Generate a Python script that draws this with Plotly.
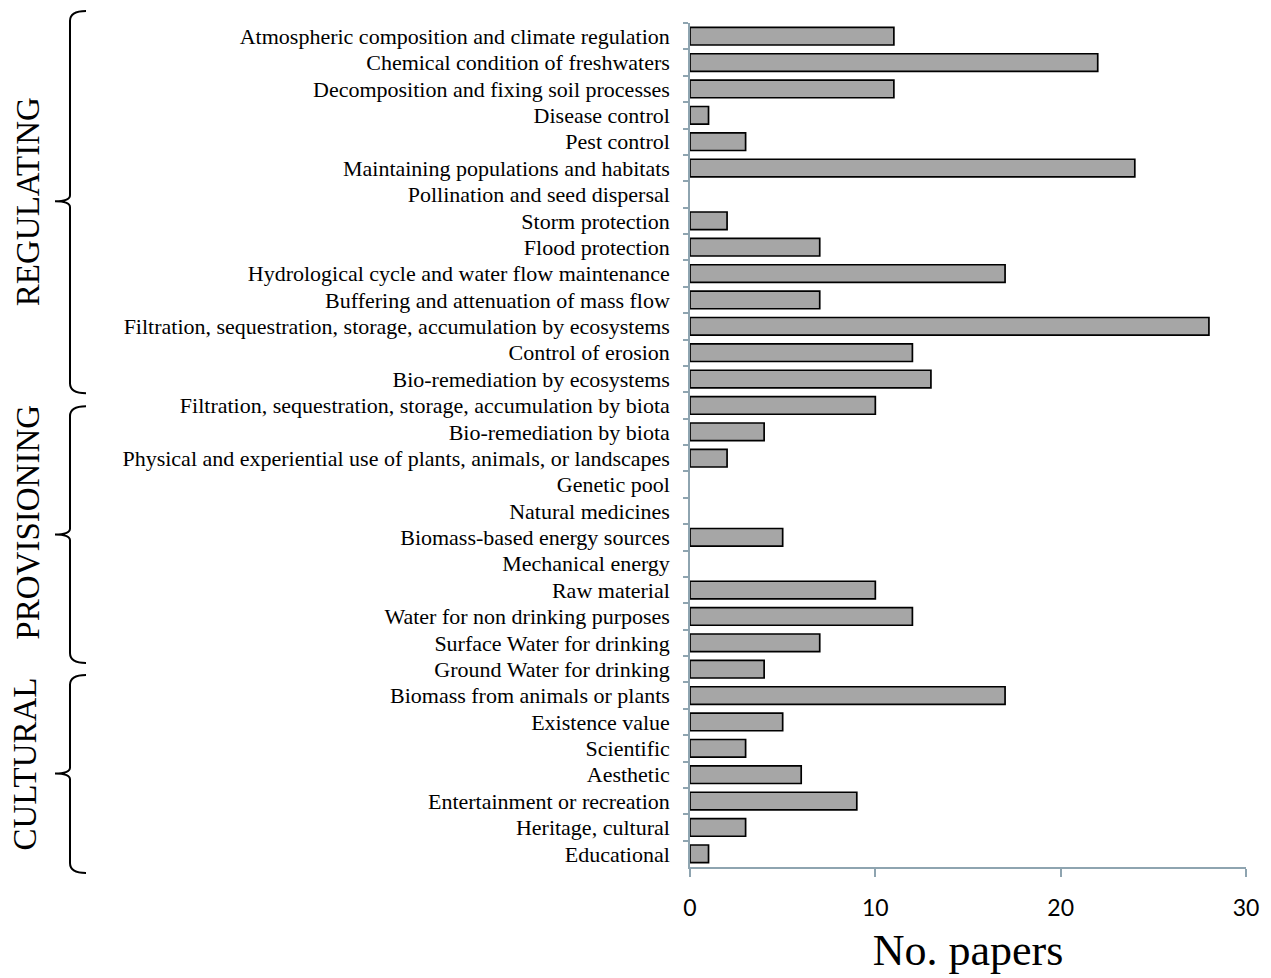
import plotly.graph_objects as go

# ---- data ----
categories = [
    "Atmospheric composition and climate regulation",
    "Chemical condition of freshwaters",
    "Decomposition and fixing soil processes",
    "Disease control",
    "Pest control",
    "Maintaining populations and habitats",
    "Pollination and seed dispersal",
    "Storm protection",
    "Flood protection",
    "Hydrological cycle and water flow maintenance",
    "Buffering and attenuation of mass flow",
    "Filtration, sequestration, storage, accumulation by ecosystems",
    "Control of erosion",
    "Bio-remediation by ecosystems",
    "Filtration, sequestration, storage, accumulation by biota",
    "Bio-remediation by biota",
    "Physical and experiential use of plants, animals, or landscapes",
    "Genetic pool",
    "Natural medicines",
    "Biomass-based energy sources",
    "Mechanical energy",
    "Raw material",
    "Water for non drinking purposes",
    "Surface Water for drinking",
    "Ground Water for drinking",
    "Biomass from animals or plants",
    "Existence value",
    "Scientific",
    "Aesthetic",
    "Entertainment or recreation",
    "Heritage, cultural",
    "Educational",
]
papers = [11, 22, 11, 1, 3, 24, 0, 2, 7, 17, 7, 28, 12, 13,
          10, 4, 2, 0, 0, 5, 0, 10, 12, 7, 4,
          17, 5, 3, 6, 9, 3, 1]
x_ticks = [0, 10, 20, 30]
group_names = ["REGULATING", "PROVISIONING", "CULTURAL"]

# ---- geometry (pixels) ----
W, H = 1271, 978
L, R, T, B = 690, 25, 23, 107
PW, PH = W - L - R, H - T - B

def px_x(px):
    return (px - L) / PW

def px_y(py):
    return (H - B - py) / PH

# brace geometry: (top, mid, bottom) pixels, label centre (x, y)
braces = [(11, 202, 395), (408, 537, 666), (678, 777, 877)]
label_pos = [(28, 203), (28, 525), (25, 768)]
bx, hook, cusp = 70, 86, 55

AX = "#8EA4B0"

fig = go.Figure(go.Bar(
    x=papers, y=categories, orientation="h",
    marker=dict(color="#A6A6A6",
                line=dict(color="black",
                          width=[1.7 if v > 0 else 0 for v in papers])),
    hoverinfo="x+y",
))

shapes = []
for (top, mid, bot) in braces:
    pts = [
        ("M", [(hook, top)]),
        ("Q", [(bx, top), (bx, top + 10)]),
        ("L", [(bx, mid - 6)]),
        ("Q", [(bx, mid), (cusp, mid)]),
        ("Q", [(bx, mid), (bx, mid + 6)]),
        ("L", [(bx, bot - 10)]),
        ("Q", [(bx, bot), (hook, bot)]),
    ]
    path = " ".join(
        cmd + " " + " ".join(f"{px_x(a):.5f},{px_y(b):.5f}" for a, b in p)
        for cmd, p in pts
    )
    shapes.append(dict(type="path", path=path, xref="paper", yref="paper",
                       line=dict(color="black", width=2)))

annotations = []
for name, (lx, ly) in zip(group_names, label_pos):
    annotations.append(dict(
        text=name, x=px_x(lx), y=px_y(ly), xref="paper", yref="paper",
        showarrow=False, textangle=-90, xanchor="center", yanchor="middle",
        font=dict(family="Liberation Serif", size=33, color="black"),
    ))

fig.update_layout(
    width=W, height=H,
    margin=dict(l=L, r=R, t=T, b=B, pad=0),
    paper_bgcolor="white", plot_bgcolor="white",
    showlegend=False, bargap=0.33,
    shapes=shapes, annotations=annotations,
    xaxis=dict(
        range=[0, 30], tickvals=x_ticks, showgrid=False, zeroline=False,
        showline=True, linecolor=AX, linewidth=1.5,
        ticks="outside", ticklen=8, tickcolor=AX, tickwidth=1.5,
        tickfont=dict(family="Lato", size=23, color="black"),
        ticklabelstandoff=12,
        title=dict(text="No. papers", standoff=14,
                   font=dict(family="Liberation Serif", size=44, color="black")),
    ),
    yaxis=dict(
        autorange="reversed", showgrid=False, zeroline=False,
        showline=True, linecolor=AX, linewidth=1.5,
        ticks="outside", ticklen=5, tickcolor=AX, tickwidth=1.5,
        tickson="boundaries",
        tickfont=dict(family="Liberation Serif", size=22, color="black"),
        ticklabelstandoff=14,
    ),
)

fig.write_html(
    "out.html",
    config={"displayModeBar": False},
    post_script="document.body.style.margin='0';document.body.style.overflow='hidden';",
)
